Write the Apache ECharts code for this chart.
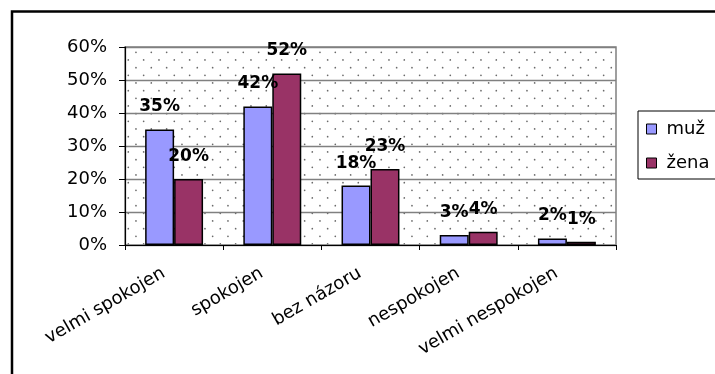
<!DOCTYPE html>
<html>
<head>
<meta charset="utf-8">
<script src="https://cdn.jsdelivr.net/npm/echarts@6/dist/echarts.min.js"></script>
<style>
  html, body { margin: 0; padding: 0; background: #ffffff; }
  #chart { width: 715px; height: 374px; }
</style>
</head>
<body>
<div id="chart"></div>
<script>
// Satisfaction answers split by respondent gender (percent)
const categories = ['velmi spokojen', 'spokojen', 'bez názoru', 'nespokojen', 'velmi nespokojen'];
const seriesNames = ['muž', 'žena'];
const muzValues = [35, 42, 18, 3, 2];
const zenaValues = [20, 52, 23, 4, 1];
const yTicks = [0, 10, 20, 30, 40, 50, 60];

const FONT = 'DejaVu Sans';

// Staggered dot texture for the plot background
function dotTile() {
  const size = 46, step = size / 3, half = step / 2;
  const ox = 13.3, oy = 6.3;
  const c = document.createElement('canvas');
  c.width = size; c.height = size;
  const g = c.getContext('2d');
  g.fillStyle = '#ffffff';
  g.fillRect(0, 0, size, size);
  g.fillStyle = '#6a6a6a';
  for (let i = -1; i < 4; i++) {
    for (let j = -1; j < 4; j++) {
      const pts = [[ox + i * step, oy + j * step], [ox + half + i * step, oy + half + j * step]];
      pts.forEach(([x, y]) => {
        if (x > -2 && x < size + 2 && y > -2 && y < size + 2) {
          g.beginPath();
          g.arc(x, y, 0.85, 0, Math.PI * 2);
          g.fill();
        }
      });
    }
  }
  return c;
}

const chart = echarts.init(document.getElementById('chart'), null, { renderer: 'canvas' });

const labelStyle = {
  show: true,
  position: 'top',
  distance: 14,
  formatter: '{c}%',
  color: '#000',
  fontFamily: FONT,
  fontWeight: 'bold',
  fontSize: 17
};

chart.setOption({
  animation: false,
  backgroundColor: '#ffffff',
  graphic: [{
    type: 'rect',
    shape: { x: 12, y: 11.5, width: 740, height: 400 },
    style: { fill: 'none', stroke: '#000', lineWidth: 2.5 },
    z: 100
  }],
  grid: {
    left: 125, right: 99, top: 47, bottom: 129,
    show: true,
    backgroundColor: { image: dotTile(), repeat: 'repeat' },
    borderColor: '#808080',
    borderWidth: 1.5
  },
  legend: {
    orient: 'vertical',
    left: 638, top: 111,
    padding: [9, 12, 7, 8],
    itemWidth: 10, itemHeight: 10,
    itemGap: 16,
    icon: 'rect',
    borderColor: '#000',
    borderWidth: 1,
    backgroundColor: '#fff',
    textStyle: { fontFamily: FONT, fontSize: 18, color: '#000', padding: [0, 0, 0, 5] },
    itemStyle: { borderColor: '#000', borderWidth: 1 },
    data: seriesNames
  },
  xAxis: {
    type: 'category',
    data: categories,
    axisLine: { lineStyle: { color: '#000', width: 1.2 } },
    axisTick: { show: true, length: 5, lineStyle: { color: '#000' } },
    axisLabel: {
      rotate: 30,
      margin: 21,
      padding: [0, 12, 0, 0],
      interval: 0,
      color: '#000',
      fontFamily: FONT,
      fontSize: 18
    }
  },
  yAxis: {
    type: 'value',
    min: yTicks[0],
    max: yTicks[yTicks.length - 1],
    interval: 10,
    axisLine: { show: true, lineStyle: { color: '#000', width: 1.2 } },
    axisTick: { show: true, length: 6, lineStyle: { color: '#000' } },
    axisLabel: {
      margin: 18,
      formatter: '{value}%',
      color: '#000',
      fontFamily: FONT,
      fontSize: 18
    },
    splitLine: { show: true, lineStyle: { color: '#808080', width: 1.3 } }
  },
  series: [
    {
      name: seriesNames[0],
      type: 'bar',
      data: muzValues,
      barGap: '0%',
      barCategoryGap: '41%',
      itemStyle: { color: '#9999ff', borderColor: '#000', borderWidth: 1.5 },
      label: labelStyle
    },
    {
      name: seriesNames[1],
      type: 'bar',
      data: zenaValues,
      itemStyle: { color: '#993366', borderColor: '#000', borderWidth: 1.5 },
      label: labelStyle
    }
  ]
});
</script>
</body>
</html>
